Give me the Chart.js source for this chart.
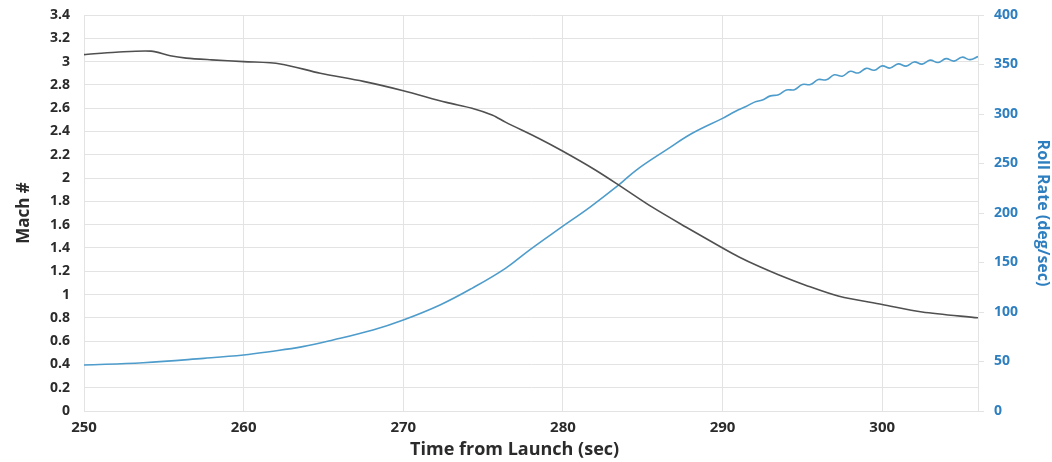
<!DOCTYPE html>
<html>
<head>
<meta charset="utf-8">
<script src="https://cdn.jsdelivr.net/npm/chart.js@4/dist/chart.umd.min.js"></script>
<style>
  html, body { margin: 0; padding: 0; background: #fff; }
  #wrap { width: 1052px; height: 462px; }
</style>
</head>
<body>
<div id="wrap"><canvas id="rollChart" width="1052" height="462"></canvas></div>
<script>
// Mach number vs time (left axis)
const machTime = [250, 252, 254.2, 255.4, 256.4, 258, 260, 262.3, 264.8, 267.5, 270, 272.7, 274.3, 275.6, 276.4, 278.5, 280, 281.9, 283.5, 285.6, 287.7, 290, 291, 292.3, 293.5, 295.2, 297.3, 300, 302.5, 306];
const machVals = [3.06, 3.08, 3.09, 3.05, 3.03, 3.015, 3.0, 2.98, 2.90, 2.83, 2.75, 2.65, 2.60, 2.54, 2.48, 2.34, 2.23, 2.08, 1.94, 1.75, 1.58, 1.40, 1.325, 1.24, 1.17, 1.08, 0.985, 0.915, 0.85, 0.80];

// Roll rate vs time (right axis)
const rollTime = [250, 253.7, 257.5, 260, 261.6, 263.7, 265.6, 268.1, 270, 272.3, 274.3, 276.4, 277.9, 279.8, 281.7, 283.5, 284.6, 286.5, 288.1, 290,
  290.5, 291, 291.5, 292, 292.5, 293, 293.5, 294, 294.5, 295, 295.5, 296, 296.5, 297, 297.5, 298, 298.5, 299, 299.5,
  300, 300.5, 301, 301.5, 302, 302.5, 303, 303.5, 304, 304.5, 305, 305.5, 306];
const rollVals = [46.5, 48.8, 53.2, 56.6, 59.9, 65, 71.7, 81.8, 91.9, 107.1, 123.9, 144.1, 162.6, 184.5, 206, 228.3, 243.4, 264, 280.5, 295.6,
  300, 304.3, 307.8, 312, 314.2, 318.3, 319.4, 324.3, 324.5, 329.8, 329.7, 334.8, 334.5, 339.6, 338.2, 343.1, 341.4, 346.1, 344.2,
  348.6, 346.4, 350.6, 348.4, 352.6, 350.4, 354.4, 352, 355.9, 353.4, 357.4, 354.9, 358];

const timeTicks = [250, 260, 270, 280, 290, 300];

const toPoints = (xs, ys) => xs.map((x, i) => ({ x: x, y: ys[i] }));

const gridColor = '#e3e3e3';
const blueText = '#2e7fc0';
const darkText = '#2b2b2b';
const fontFamily = '"Open Sans", "DejaVu Sans", sans-serif';

// fixed axis sizes so the plot area sits where the original does
function fitY(width) {
  return (scale) => {
    scale.width = width;
    scale.paddingTop = 0;
    scale.paddingBottom = 0;
  };
}

const ctx = document.getElementById('rollChart').getContext('2d');
const rollChart = new Chart(ctx, {
  type: 'line',
  data: {
    datasets: [{
      label: 'Mach #',
      data: toPoints(machTime, machVals),
      yAxisID: 'yMach',
      borderColor: '#505050',
      borderWidth: 1.6,
      pointRadius: 0,
      tension: 0.3,
      fill: false
    }, {
      label: 'Roll Rate (deg/sec)',
      data: toPoints(rollTime, rollVals),
      yAxisID: 'yRoll',
      borderColor: '#4e9ccb',
      borderWidth: 1.6,
      pointRadius: 0,
      tension: 0.4,
      fill: false
    }]
  },
  options: {
    responsive: false,
    animation: false,
    layout: { padding: { top: 15, left: 0, right: 0, bottom: 0 } },
    plugins: {
      legend: { display: false },
      tooltip: { enabled: false }
    },
    scales: {
      x: {
        type: 'linear',
        min: 250,
        max: 306,
        afterBuildTicks: (scale) => {
          scale.ticks = timeTicks.map(v => ({ value: v }));
        },
        afterFit: (scale) => { scale.height = 51; },
        ticks: {
          color: darkText,
          padding: 8,
          font: { family: fontFamily, size: 15, weight: 'bold' }
        },
        grid: { color: gridColor, drawTicks: false },
        border: { color: gridColor },
        title: {
          display: true,
          // trailing spaces nudge the centred title left, like the original
          text: 'Time from Launch (sec)\u00a0\u00a0\u00a0\u00a0\u00a0\u00a0\u00a0',
          color: darkText,
          padding: { top: 0, bottom: 1 },
          font: { family: fontFamily, size: 18, weight: 'bold' }
        }
      },
      yMach: {
        position: 'left',
        min: 0,
        max: 3.4,
        ticks: {
          stepSize: 0.2,
          color: darkText,
          padding: 14,
          font: { family: fontFamily, size: 14, weight: 'bold' },
          callback: (v) => String(+v.toFixed(1))
        },
        afterFit: fitY(84),
        grid: { color: gridColor, drawTicks: false },
        border: { color: gridColor },
        title: {
          display: true,
          text: 'Mach #',
          color: darkText,
          padding: { top: 14, bottom: 0 },
          font: { family: fontFamily, size: 17, weight: 'bold' }
        }
      },
      yRoll: {
        position: 'right',
        min: 0,
        max: 400,
        ticks: {
          stepSize: 50,
          color: blueText,
          padding: 10,
          font: { family: fontFamily, size: 14, weight: 'bold' }
        },
        afterFit: fitY(74),
        grid: { drawOnChartArea: false, color: gridColor, tickLength: 6 },
        border: { color: gridColor },
        title: {
          display: true,
          text: 'Roll Rate (deg/sec)',
          color: blueText,
          padding: { top: 0, bottom: 2 },
          font: { family: fontFamily, size: 16, weight: 'bold' }
        }
      }
    }
  }
});
</script>
</body>
</html>
